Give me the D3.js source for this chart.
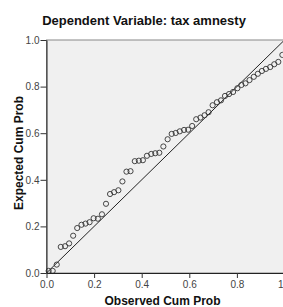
<!DOCTYPE html>
<html>
<head>
<meta charset="utf-8">
<script src="https://cdn.jsdelivr.net/npm/d3@7"></script>
<style>
  body { margin: 0; background: #fff; }
  svg { display: block; font-family: "Liberation Sans", Arial, sans-serif; }
</style>
</head>
<body>
<div id="chart"></div>
<script>
const titleText = "Dependent Variable: tax amnesty";
const xTitle = "Observed Cum Prob";
const yTitle = "Expected Cum Prob";
const tickValues = [0, 0.2, 0.4, 0.6, 0.8, 1.0];

const observed = [0.009, 0.026, 0.043, 0.060, 0.078, 0.095, 0.112, 0.129, 0.147, 0.164,
  0.181, 0.198, 0.216, 0.233, 0.250, 0.267, 0.284, 0.302, 0.319, 0.336,
  0.353, 0.371, 0.388, 0.405, 0.422, 0.440, 0.457, 0.474, 0.491, 0.509,
  0.526, 0.543, 0.560, 0.578, 0.595, 0.612, 0.629, 0.647, 0.664, 0.681,
  0.698, 0.716, 0.733, 0.750, 0.767, 0.784, 0.802, 0.819, 0.836, 0.853,
  0.871, 0.888, 0.905, 0.922, 0.940, 0.957, 0.974, 0.991];
const expected = [0.009, 0.009, 0.036, 0.112, 0.115, 0.127, 0.160, 0.193, 0.207, 0.212,
  0.218, 0.235, 0.233, 0.252, 0.297, 0.339, 0.347, 0.355, 0.393, 0.435,
  0.437, 0.480, 0.482, 0.484, 0.503, 0.511, 0.514, 0.516, 0.543, 0.574,
  0.597, 0.601, 0.608, 0.614, 0.615, 0.631, 0.660, 0.667, 0.677, 0.690,
  0.720, 0.733, 0.741, 0.760, 0.768, 0.777, 0.793, 0.807, 0.814, 0.828,
  0.842, 0.855, 0.867, 0.876, 0.884, 0.896, 0.906, 0.936];

const W = 283, H = 307;
const svg = d3.select("#chart").append("svg").attr("width", W).attr("height", H);

const x = d3.scaleLinear().domain([0, 1]).range([46.5, 284.5]);
const y = d3.scaleLinear().domain([0, 1]).range([273, 40]);

// plot background
svg.append("rect")
  .attr("x", x(0)).attr("y", y(1))
  .attr("width", x(1) - x(0)).attr("height", y(0) - y(1))
  .attr("fill", "#f0f0f0")
  .attr("stroke", "#888").attr("stroke-width", 1);

// reference diagonal
svg.append("line")
  .attr("x1", x(0)).attr("y1", y(0))
  .attr("x2", x(1)).attr("y2", y(1))
  .attr("stroke", "#222").attr("stroke-width", 1);

// points
svg.append("g").selectAll("circle")
  .data(observed.map((o, i) => [o, expected[i]]))
  .join("circle")
  .attr("cx", d => x(d[0]))
  .attr("cy", d => y(d[1]))
  .attr("r", 2.6)
  .attr("fill", "none")
  .attr("stroke", "#333")
  .attr("stroke-width", 0.9);

// axes
const fmt = d3.format(".1f");
const xAxis = svg.append("g")
  .attr("transform", `translate(0,${y(0)})`)
  .call(d3.axisBottom(x).tickValues(tickValues).tickFormat(fmt).tickSize(5).tickPadding(3).tickSizeOuter(0));
const yAxis = svg.append("g")
  .attr("transform", `translate(${x(0)},0)`)
  .call(d3.axisLeft(y).tickValues(tickValues).tickFormat(fmt).tickSize(6).tickPadding(1).tickSizeOuter(0));

[xAxis, yAxis].forEach(g => {
  g.selectAll("text").attr("font-size", 10).attr("fill", "#444")
    .attr("font-family", "'Liberation Sans', Arial, sans-serif");
  g.selectAll("line").attr("stroke", "#333");
  g.select(".domain").attr("stroke", "#222");
});

// titles
svg.append("text")
  .attr("x", 144).attr("y", 25)
  .attr("text-anchor", "middle")
  .attr("font-size", 13).attr("font-weight", "bold").attr("fill", "#111")
  .text(titleText);

svg.append("text")
  .attr("x", 162.5).attr("y", 305)
  .attr("text-anchor", "middle")
  .attr("font-size", 12).attr("font-weight", "bold").attr("fill", "#111")
  .text(xTitle);

svg.append("text")
  .attr("transform", "translate(23,153) rotate(-90)")
  .attr("text-anchor", "middle")
  .attr("font-size", 12).attr("font-weight", "bold").attr("fill", "#111")
  .text(yTitle);
</script>
</body>
</html>
